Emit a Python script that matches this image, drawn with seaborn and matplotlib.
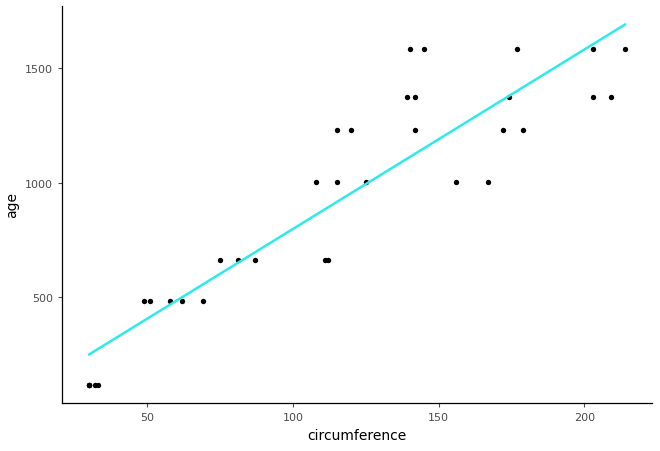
import numpy as np
import pandas as pd
import seaborn as sns
import matplotlib.pyplot as plt

# Orange trees: circumference (mm) by age (days), five trees
age = [118, 484, 664, 1004, 1231, 1372, 1582]
tree1 = [30, 58, 87, 115, 120, 142, 145]
tree2 = [33, 69, 111, 156, 172, 203, 203]
tree3 = [30, 51, 75, 108, 115, 139, 140]
tree4 = [32, 62, 112, 167, 179, 209, 214]
tree5 = [30, 49, 81, 125, 142, 174, 177]

df = pd.DataFrame({
    "circumference": tree1 + tree2 + tree3 + tree4 + tree5,
    "age": age * 5,
})

sns.set_style("ticks")
plt.rcParams["font.family"] = ["DejaVu Sans"]

fig = plt.figure(figsize=(6.6, 4.52), dpi=100)
ax = fig.add_axes([0.094, 0.106, 0.894, 0.879])

sns.regplot(data=df, x="circumference", y="age", ci=None, ax=ax,
            scatter_kws={"s": 15, "color": "black", "linewidths": 0, "alpha": 1},
            line_kws={"color": "#2EEAEA", "linewidth": 1.8})

ax.set_xlim(20.8, 223.2)
ax.set_ylim(40, 1770)
ax.set_xticks([50, 100, 150, 200])
ax.set_yticks([500, 1000, 1500])
ax.tick_params(labelsize=8, colors="#4D4D4D", length=3)
ax.set_xlabel("circumference", fontsize=10, color="black")
ax.set_ylabel("age", fontsize=10, color="black")
sns.despine(ax=ax)
for s in ["left", "bottom"]:
    ax.spines[s].set_color("black")
    ax.spines[s].set_linewidth(0.9)

fig.savefig("out.png", dpi=100)
